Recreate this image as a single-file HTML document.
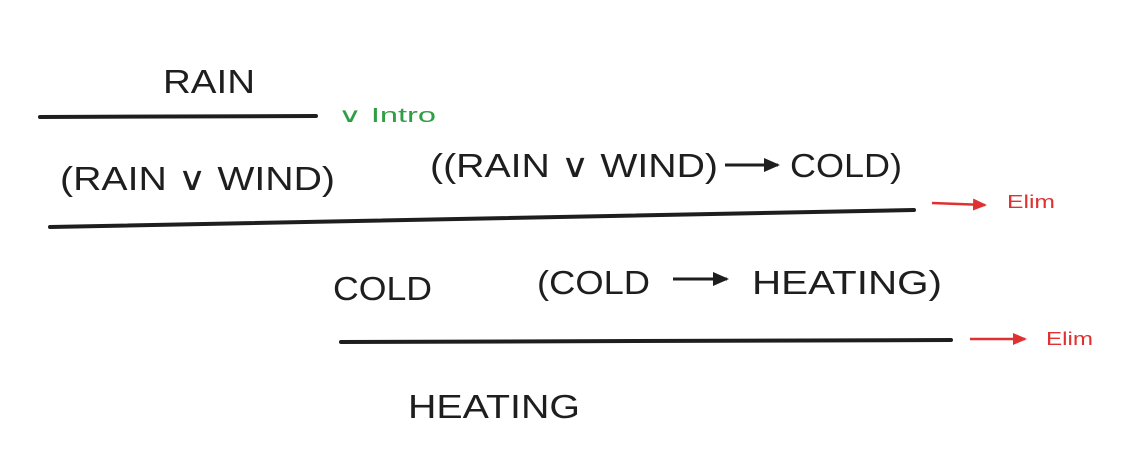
<!DOCTYPE html>
<html><head><meta charset="utf-8"><style>
html,body{margin:0;padding:0;background:#fff;}
svg{display:block}
text{font-family:"Liberation Sans",sans-serif;}
</style></head><body>
<svg width="1132" height="454" viewBox="0 0 1132 454" xmlns="http://www.w3.org/2000/svg">
<defs>
<marker id="ab" markerWidth="16" markerHeight="14" refX="14" refY="7" orient="auto" markerUnits="userSpaceOnUse"><path d="M0,0 L16,7 L0,14 z" fill="#1e1e1e"/></marker>
<marker id="ar" markerWidth="14" markerHeight="12" refX="12" refY="6" orient="auto" markerUnits="userSpaceOnUse"><path d="M0,0 L14,6 L0,12 z" fill="#e03131"/></marker>
</defs>
<g fill="#1e1e1e" font-size="33">
<text x="163" y="93" textLength="92" lengthAdjust="spacingAndGlyphs">RAIN</text>
<text x="60" y="190" textLength="275" lengthAdjust="spacingAndGlyphs">(RAIN ∨ WIND)</text>
<text x="430" y="177" textLength="288" lengthAdjust="spacingAndGlyphs">((RAIN ∨ WIND)</text>
<text x="790" y="177" textLength="112" lengthAdjust="spacingAndGlyphs">COLD)</text>
<text x="333" y="300" textLength="99" lengthAdjust="spacingAndGlyphs">COLD</text>
<text x="537" y="294" textLength="113" lengthAdjust="spacingAndGlyphs">(COLD</text>
<text x="752" y="294" textLength="190" lengthAdjust="spacingAndGlyphs">HEATING)</text>
<text x="408" y="418" textLength="172" lengthAdjust="spacingAndGlyphs">HEATING</text>
</g>
<g stroke="#1e1e1e" stroke-width="4" stroke-linecap="round">
<line x1="40" y1="117" x2="316" y2="116"/>
<line x1="50" y1="227" x2="914" y2="210"/>
<line x1="341" y1="342" x2="951" y2="340"/>
</g>
<g stroke="#1e1e1e" stroke-width="3">
<line x1="725" y1="165" x2="778" y2="165" marker-end="url(#ab)"/>
<line x1="673" y1="279" x2="727" y2="279" marker-end="url(#ab)"/>
</g>
<g stroke="#e03131" stroke-width="2.5">
<line x1="932" y1="203" x2="985" y2="205" marker-end="url(#ar)"/>
<line x1="970" y1="339" x2="1025" y2="339" marker-end="url(#ar)"/>
</g>
<text x="338" y="122" font-size="20" fill="#2f9e44" textLength="98" lengthAdjust="spacingAndGlyphs">∨ Intro</text>
<g fill="#e03131" font-size="18">
<text x="1007" y="208" textLength="48" lengthAdjust="spacingAndGlyphs">Elim</text>
<text x="1046" y="345" textLength="47" lengthAdjust="spacingAndGlyphs">Elim</text>
</g>
</svg>
</body></html>
